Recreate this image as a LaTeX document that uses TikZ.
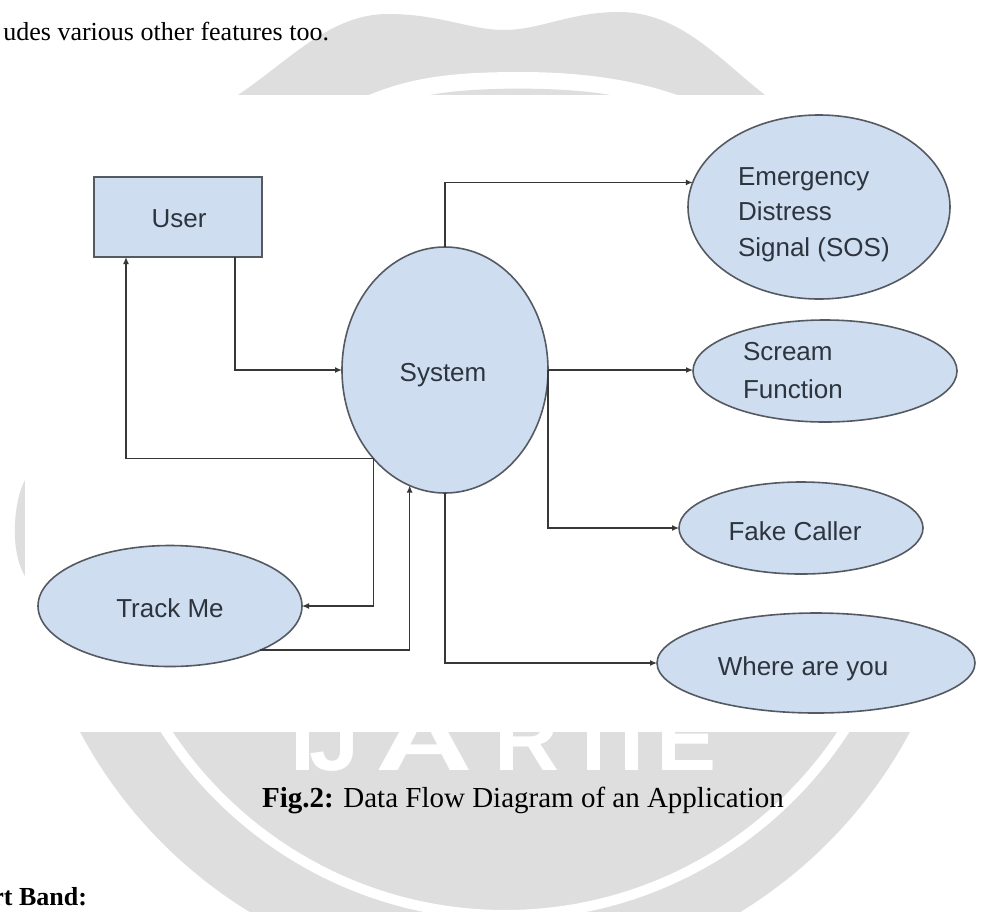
\documentclass[tikz,border=0pt]{standalone}
\usepackage{fontspec}
\setmainfont{Liberation Serif}
\newfontfamily\dsans{Liberation Sans}
\usetikzlibrary{arrows.meta,shapes.geometric}
\definecolor{wmgray}{RGB}{222,222,222}
\definecolor{nodefill}{RGB}{206,222,240}
\definecolor{nodeline}{RGB}{85,90,98}
\definecolor{linecol}{RGB}{55,55,55}
\definecolor{txtcol}{RGB}{45,52,62}
\begin{document}
\begin{tikzpicture}[x=1pt,y=-1pt,
  every node/.style={inner sep=0pt, outer sep=0pt},
  dbox/.style={draw=nodeline, fill=nodefill, line width=1.6pt, rectangle, minimum width=168pt, minimum height=80pt},
  dell/.style={draw=nodeline, fill=nodefill, line width=1.6pt, ellipse},
  lbl/.style={font=\dsans\fontsize{26}{30}\selectfont, text=txtcol, anchor=base west},
  wml/.style={font=\dsans\bfseries\fontsize{90}{90}\selectfont, text=white, anchor=base west},
  arr/.style={draw=linecol, line width=1.3pt, -{Latex[length=7pt,width=6pt]}},
  ]
\useasboundingbox (0,0) rectangle (981,911);
\fill[white] (0,0) rectangle (981,911);
% watermark
\fill[wmgray] (495,511) circle[radius=470pt];
\fill[wmgray] (25,480) .. controls (14,500) and (9,550) .. (25,576) -- cycle;
\fill[wmgray] (238,95) .. controls (290,60) and (330,14) .. (388,14) .. controls (440,14) and (470,30) .. (504,30) .. controls (540,30) and (570,12) .. (619,12) .. controls (680,12) and (720,60) .. (765,95) -- cycle;
\fill[white] (369,95) .. controls (410,78) and (450,72) .. (520,72) .. controls (590,72) and (640,82) .. (677,95) -- cycle;
\fill[wmgray] (430,95) .. controls (470,87) and (560,86) .. (610,95) -- cycle;
\draw[white, line width=10pt] (505,511) circle[radius=404pt];
\node[wml] (w1) at (290,770) {I};
\node[wml] (w2) at (309,770) {J};
\node[wml, xscale=1.5] (w3) at (375,770) {A};
\node[wml] (w4) at (494,770) {R};
\node[wml] (w5) at (581,770) {I};
\node[wml] (w6) at (619,770) {I};
\node[wml] (w7) at (656,770) {E};
\fill[white] (25,95) rectangle (981,732);
% diagram nodes
\node[dbox] (user) at (178,217) {};
\node[lbl, anchor=base] (usert) at (179,227) {User};
\node[dell, minimum width=206pt, minimum height=246pt] (sys) at (445,370) {};
\node[lbl, anchor=base] (syst) at (443,381) {System};
\node[dell, minimum width=262pt, minimum height=184pt] (sos) at (819,207) {};
\node[lbl] (sost1) at (738,185) {Emergency};
\node[lbl] (sost2) at (738,220) {Distress};
\node[lbl] (sost3) at (738,256) {Signal (SOS)};
\node[dell, minimum width=264pt, minimum height=102pt] (scream) at (825,371) {};
\node[lbl] (scrt1) at (743,360) {Scream};
\node[lbl] (scrt2) at (743,398) {Function};
\node[dell, minimum width=244pt, minimum height=92pt] (fake) at (801,528) {};
\node[lbl, anchor=base] (faket) at (795,540) {Fake Caller};
\node[dell, minimum width=318pt, minimum height=100pt] (where) at (816,663) {};
\node[lbl, anchor=base] (wheret) at (803,675) {Where are you};
\node[dell, minimum width=264pt, minimum height=121pt] (track) at (170,606) {};
\node[lbl, anchor=base] (trackt) at (170,617) {Track Me};
% connectors
\draw[arr] ([xshift=57pt]user.south) |- (sys.west);
\draw[arr] (sys.231) -| ([xshift=-52pt]user.south);
\draw[arr] (sys.231) |- (track.east);
\draw[arr] (track.-26) -| (sys.253);
\draw[arr] (sys.south) |- (where.west);
\draw[arr] (sys.north) |- (sos.169);
\draw[arr] (sys.east) -- (sys.east -| scream.west);
\draw[arr] (sys.east) |- (fake.west);
% page texts
\node[font=\fontsize{26}{30}\selectfont, anchor=base east] (toptext) at (329,40) {udes various other features too.};
\node[font=\fontsize{29}{34}\selectfont, anchor=base] (caption) at (523,807) {\textbf{Fig.2:} Data Flow Diagram of an Application};
\node[font=\bfseries\fontsize{26}{30}\selectfont, anchor=base east] (band) at (87,905) {rt Band:};
\end{tikzpicture}
\end{document}
